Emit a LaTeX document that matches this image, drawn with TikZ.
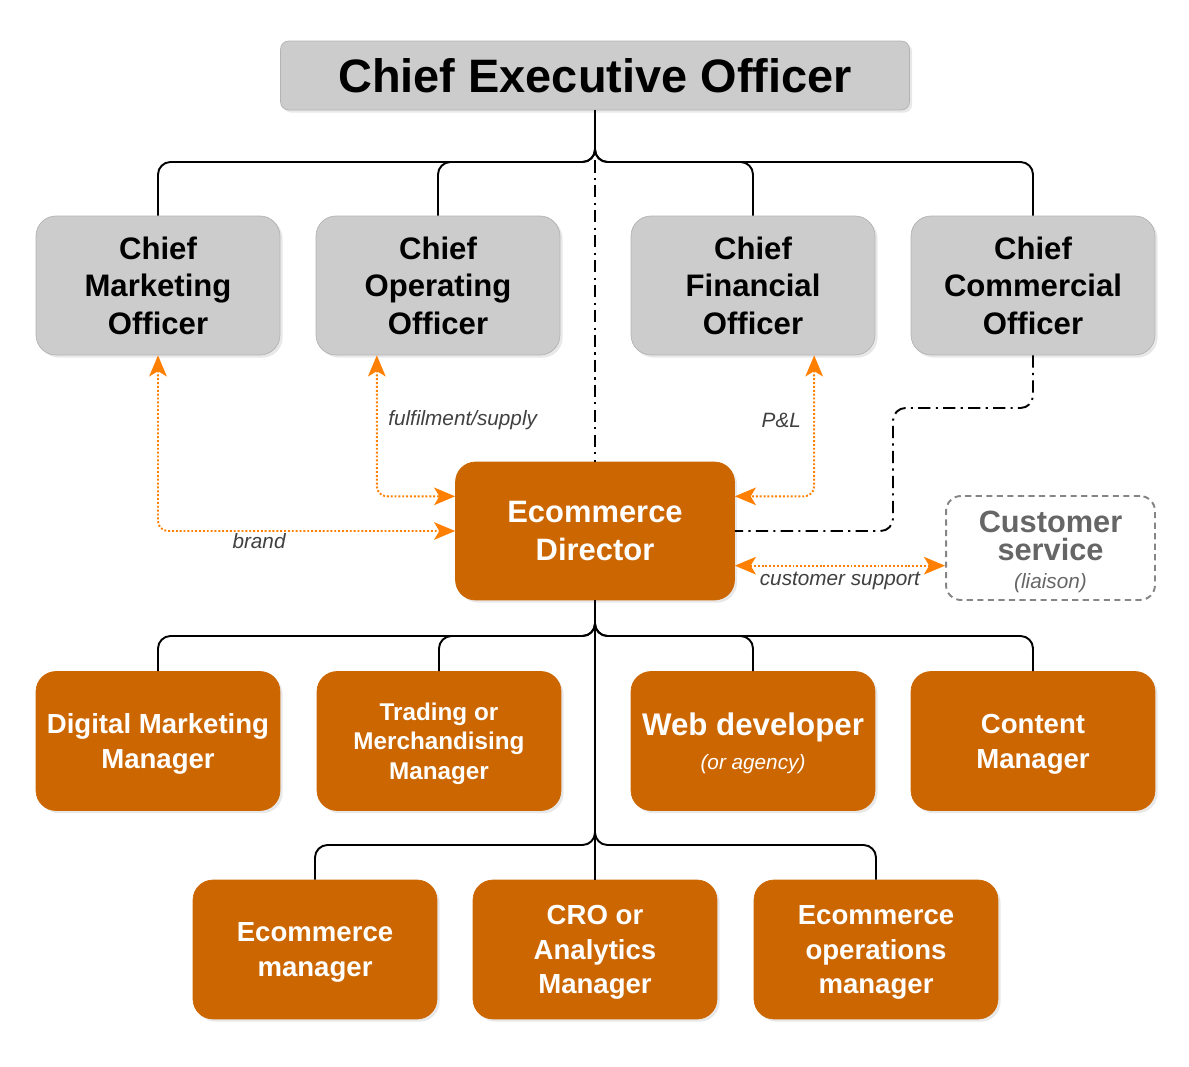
\documentclass[tikz,border=0pt]{standalone}
\usepackage{fontspec}
\setmainfont{Liberation Sans}
\usetikzlibrary{arrows.meta, calc, shadows}
\definecolor{boxgray}{HTML}{CCCCCC}
\definecolor{boxedge}{HTML}{B3B3B3}
\definecolor{ecomorange}{HTML}{CC6600}
\definecolor{linkorange}{HTML}{FF8000}
\definecolor{labelgray}{HTML}{404040}
\definecolor{servicegray}{HTML}{666666}

\begin{document}
\begin{tikzpicture}[x=0.02cm, y=-0.02cm,
  chief/.style={draw=boxedge, fill=boxgray, rounded corners=0.4cm, minimum width=4.88cm, minimum height=2.78cm,
    align=center, inner sep=0pt, font=\bfseries\fontsize{17.7}{21.3}\selectfont,
    drop shadow={shadow xshift=1.5pt, shadow yshift=-1.5pt, opacity=.15, fill=black!60}},
  team/.style={chief, draw=ecomorange, fill=ecomorange, text=white, font=\bfseries\fontsize{15.7}{19.8}\selectfont,
    text depth=-1pt},
  service/.style={draw=servicegray!80, line width=1.1pt, dash pattern=on 3.5pt off 2.5pt, rounded corners=0.3cm,
    minimum width=4.18cm, minimum height=2.08cm, align=center, inner sep=0pt, text=servicegray,
    font=\bfseries\fontsize{17.5}{16}\selectfont},
  tree/.style={line width=1.1pt, rounded corners=0.25cm},
  dashdot/.style={line width=1.1pt, dash pattern=on 7pt off 3pt on 1.2pt off 3pt, rounded corners=0.25cm},
  link/.style={linkorange, line width=1.1pt, dash pattern=on 1.1pt off 1.1pt, rounded corners=0.2cm,
    {Stealth[length=12pt,width=10pt,inset=3pt]}-{Stealth[length=12pt,width=10pt,inset=3pt]}},
  linklabel/.style={labelgray, font=\itshape\fontsize{11.8}{14}\selectfont, inner sep=1pt}
]
\useasboundingbox (0,0) rectangle (1189,1067);

% Board
\node[chief, minimum width=12.58cm, minimum height=1.38cm, rounded corners=0.16cm,
  font=\bfseries\fontsize{26.7}{32}\selectfont] (ceo) at (595,75.5) {Chief Executive Officer};
\node[chief] (cmo) at (158,285.5) {Chief\\Marketing\\Officer};
\node[chief] (coo) at (438,285.5) {Chief\\Operating\\Officer};
\node[chief] (cfo) at (753,285.5) {Chief\\Financial\\Officer};
\node[chief] (cco) at (1033,285.5) {Chief\\Commercial\\Officer};

% Ecommerce Director
\node[team, minimum width=5.58cm, minimum height=2.76cm, text depth=,
  font=\bfseries\fontsize{17.6}{21.5}\selectfont] (ed) at (595,531) {Ecommerce\\Director};
\node[service] (cs) at (1050.5,548) {\rule{0pt}{16.5pt}Customer\\service\\[0pt]{\mdseries\itshape\fontsize{11.8}{14}\selectfont (liaison)}};

% Team
\node[team] (dmm) at (158,741) {Digital Marketing\\Manager};
\node[team, text depth=-0.5pt, font=\bfseries\fontsize{13.8}{16.9}\selectfont] (tmm) at (439,741) {Trading or\\Merchandising\\Manager};
\node[team, text depth=-1.5pt] (web) at (753,741) {{\fontsize{17.8}{21}\selectfont Web developer}\\[-0.5pt]{\mdseries\itshape\fontsize{11.8}{14}\selectfont (or agency)}};
\node[team, text depth=-1.5pt] (cm) at (1033,741) {Content\\Manager};
\node[team] (em) at (315,949.5) {Ecommerce\\manager};
\node[team] (cro) at (595,949.5) {CRO or\\Analytics\\Manager};
\node[team] (eom) at (876,949.5) {Ecommerce\\operations\\manager};

% Reporting lines
\coordinate (board bus) at (595,162);
\coordinate (team bus) at (595,636);
\coordinate (ops bus) at (595,845);
\foreach \n in {cmo,coo,cfo,cco}
  \draw[tree] (ceo.south) -- (board bus) -| (\n.north);
\foreach \n in {dmm,tmm,web,cm}
  \draw[tree] (ed.south) -- (team bus) -| (\n.north);
\foreach \n in {em,eom}
  \draw[tree] (ed.south) -- (ops bus) -| (\n.north);
\draw[tree] (ed.south) -- (cro.north);

% Dotted reporting
\draw[dashdot] (ceo.south) -- (ed.north);
\draw[dashdot] (cco.south) |- (893,408) |- (ed.east);

% Working links
\coordinate (coo link) at ($(coo.south west)!0.25!(coo.south east)$);
\coordinate (cfo link) at ($(cfo.south west)!0.75!(cfo.south east)$);
\coordinate (ed upper left) at ($(ed.north west)!0.25!(ed.south west)$);
\coordinate (ed upper right) at ($(ed.north east)!0.25!(ed.south east)$);
\coordinate (ed lower right) at ($(ed.north east)!0.75!(ed.south east)$);
\draw[link] (cmo.south) |- node[linklabel, below, pos=0.67] {brand} (ed.west);
\draw[link] (coo link) |- node[linklabel, right=5pt, pos=0.23] {fulfilment/supply} (ed upper left);
\draw[link] (cfo link) |- node[linklabel, left=6pt, pos=0.23] {P\&L} (ed upper right);
\draw[link] (ed lower right) -- node[linklabel, below=2pt] {customer support} (ed lower right -| cs.west);
\end{tikzpicture}
\end{document}
